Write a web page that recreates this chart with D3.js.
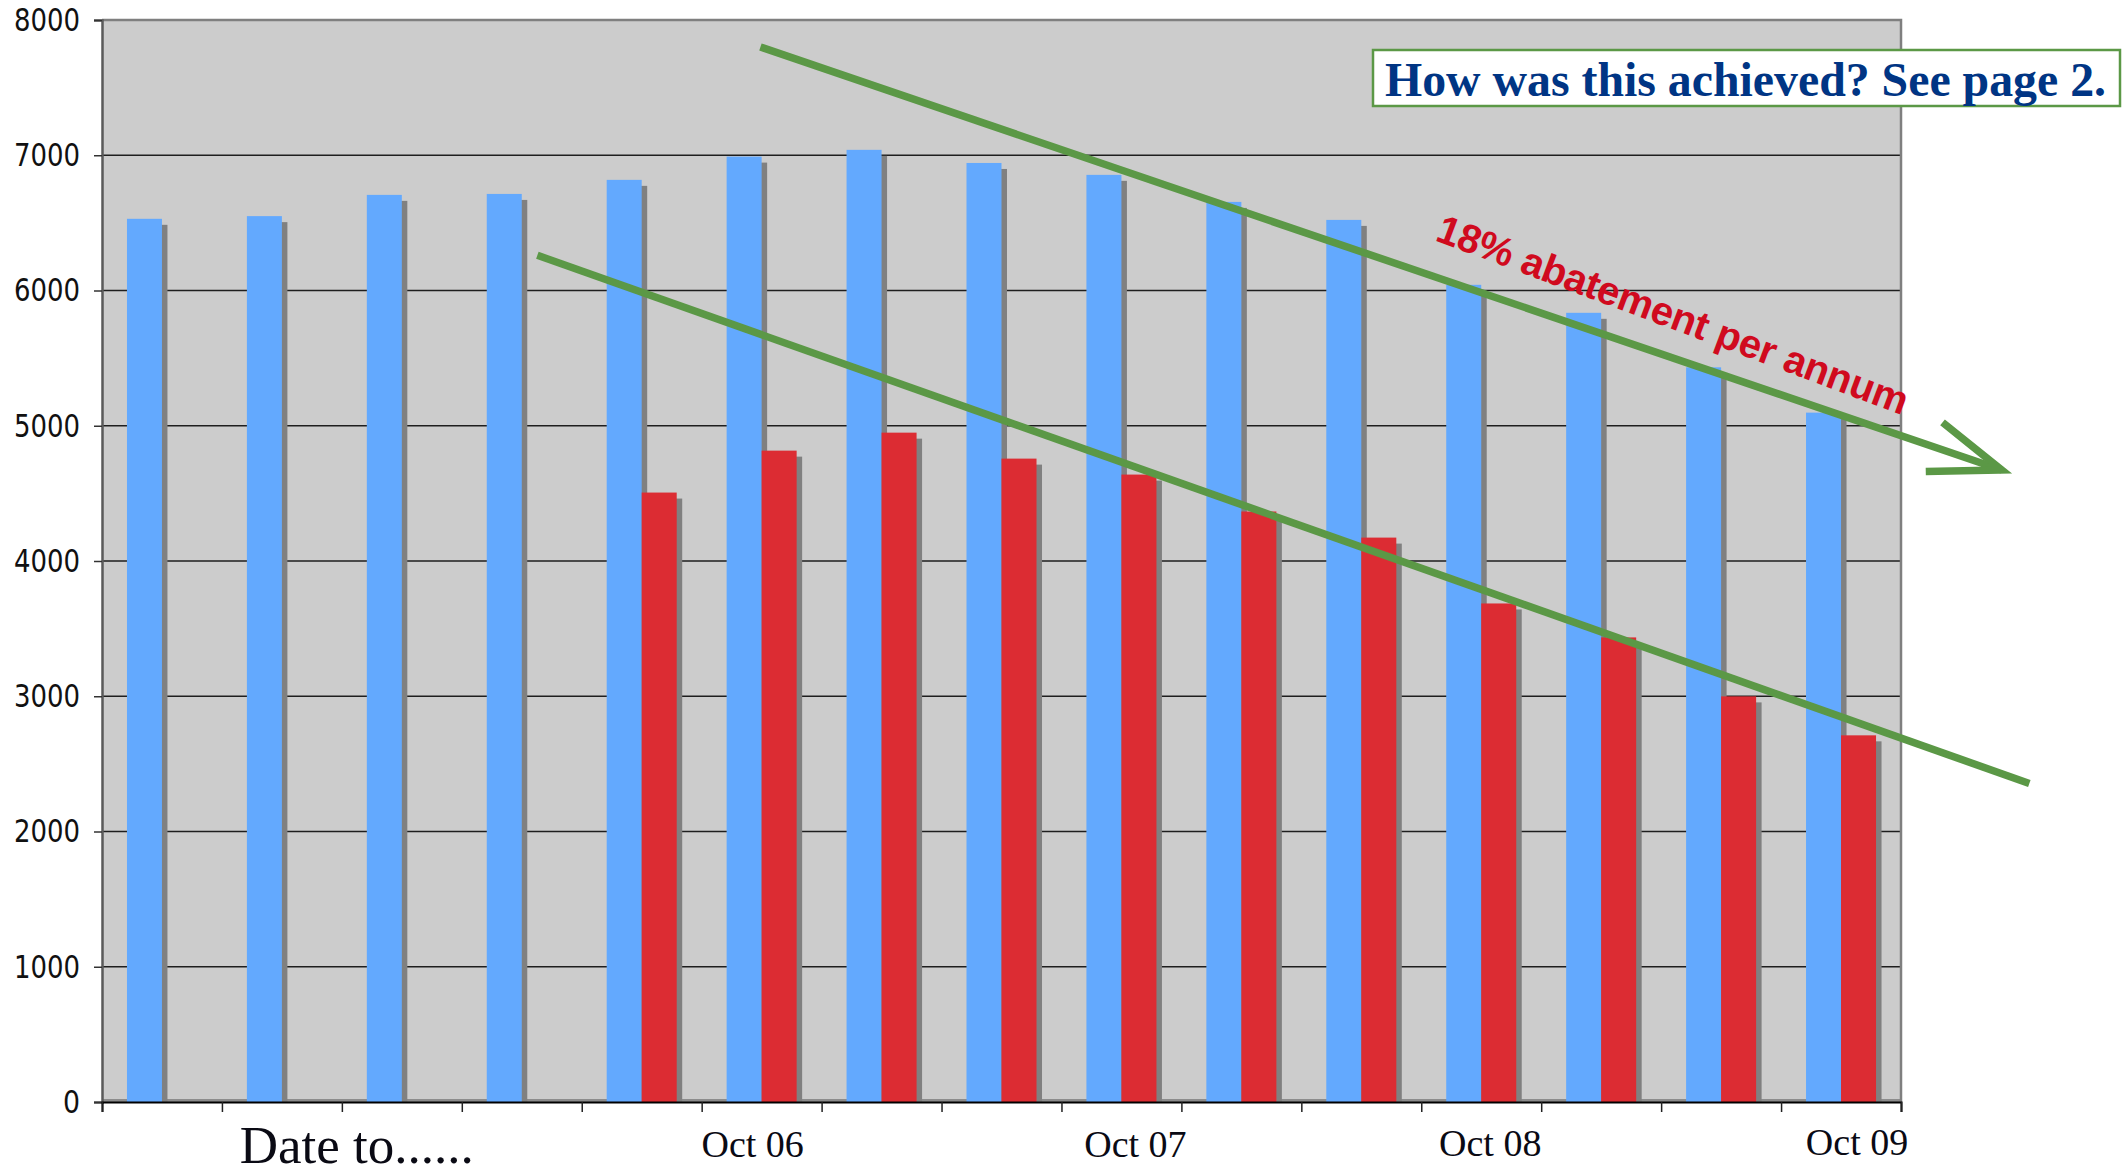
<!DOCTYPE html>
<html>
<head>
<meta charset="utf-8">
<script src="https://cdn.jsdelivr.net/npm/d3@7"></script>
<style>
  body { margin: 0; background: #fff; }
  svg { display: block; }
</style>
</head>
<body>
<div id="chart"></div>
<script>
// periods (4-monthly) and the two series
var periods = ["Feb 05", "Jun 05", "Oct 05", "Feb 06", "Jun 06", "Oct 06", "Feb 07", "Jun 07",
               "Oct 07", "Feb 08", "Jun 08", "Oct 08", "Feb 09", "Jun 09", "Oct 09"];
var blueValues = [6530, 6550, 6707, 6714, 6818, 6990, 7040, 6943, 6855, 6655, 6522, 6042, 5835, 5432, 5097];
var redValues = [null, null, null, null, 4506, 4816, 4949, 4757, 4639, 4366, 4173, 3686, 3435, 2999, 2711];
var yTicks = [0, 1000, 2000, 3000, 4000, 5000, 6000, 7000, 8000];
var labelPeriods = ["Oct 05", "Oct 06", "Oct 07", "Oct 08", "Oct 09"];
var labelTexts = ["Date to......", "Oct 06", "Oct 07", "Oct 08", "Oct 09"];
// trend lines: [category position, value]
var trendLower = [[3.63, 6260], [16.07, 2355]];
var trendUpper = [[5.49, 7800], [15.84, 4673]];
var trendText = "18% abatement per annum";
var noteText = "How was this achieved? See page 2.";

var width = 2125, height = 1173;
var margin = {top: 20, right: 224, bottom: 71, left: 102};
var plotL = margin.left, plotR = width - margin.right;
var plotT = margin.top, plotB = height - margin.bottom;

var svg = d3.select("#chart").append("svg")
	.attr("width", width)
	.attr("height", height)
	.attr("viewBox", "0 0 " + width + " " + height);

var x0 = d3.scaleBand().domain(periods).range([plotL, plotR]);
var x1 = d3.scaleBand().domain(["blue", "red"]).range([0, x0.bandwidth()])
	.paddingInner(0).paddingOuter(0.713);
var xLin = d3.scaleLinear().domain([0, periods.length]).range([plotL, plotR]);
var y = d3.scaleLinear().domain([0, 8000]).range([plotB, plotT]);

svg.append("defs").append("clipPath").attr("id", "plotclip")
  .append("rect").attr("x", plotL).attr("y", plotT).attr("width", plotR - plotL).attr("height", plotB - plotT);

// plot background
svg.append("rect")
	.attr("x", plotL).attr("y", plotT)
	.attr("width", plotR - plotL).attr("height", plotB - plotT)
	.attr("fill", "#cccccc");

// floor strip
svg.append("rect")
	.attr("x", plotL).attr("y", plotB - 3)
	.attr("width", plotR - plotL).attr("height", 3)
	.attr("fill", "#8c8c8c");

// gridlines
svg.append("g").selectAll("line")
	.data(yTicks.filter(function(d) { return d > 0 && d < 8000; }))
	.enter().append("line")
	.attr("x1", plotL).attr("x2", plotR)
	.attr("y1", function(d) { return y(d); })
	.attr("y2", function(d) { return y(d); })
	.attr("stroke", "#1e1e1e")
	.attr("stroke-width", 1.3);

// border top & right
svg.append("path")
	.attr("d", "M" + plotL + "," + plotT + "H" + plotR + "V" + plotB)
	.attr("fill", "none")
	.attr("stroke", "#7f7f7f")
	.attr("stroke-width", 2.5);

var rows = periods.map(function(p, i) {
	return [{period: p, key: "blue", value: blueValues[i]}, {period: p, key: "red", value: redValues[i]}];
});
var flat = [].concat.apply([], rows).filter(function(d) { return d.value != null; });
var colors = {blue: "#63a9fe", red: "#dc2c33"};

var bars = svg.append("g").attr("clip-path", "url(#plotclip)");
bars.selectAll(".shadow")
	.data(flat)
	.enter().append("rect")
	.attr("class", "shadow")
	.attr("x", function(d) { return x0(d.period) + x1(d.key) + 5.5; })
	.attr("y", function(d) { return y(d.value) + 6; })
	.attr("width", x1.bandwidth())
	.attr("height", function(d) { return plotB - y(d.value); })
	.attr("fill", "#808080");
bars.selectAll(".bar")
	.data(flat)
	.enter().append("rect")
	.attr("class", "bar")
	.attr("x", function(d) { return x0(d.period) + x1(d.key); })
	.attr("y", function(d) { return y(d.value); })
	.attr("width", x1.bandwidth())
	.attr("height", function(d) { return plotB - y(d.value); })
	.attr("fill", function(d) { return colors[d.key]; });

// y axis
var yAxis = svg.append("g")
	.attr("transform", "translate(" + plotL + ",0)")
	.call(d3.axisLeft(y).tickValues(yTicks).tickSize(8).tickPadding(14).tickFormat(d3.format("d")));
yAxis.select(".domain").attr("stroke", "#5a5a5a").attr("stroke-width", 2.5);
yAxis.selectAll(".tick line").attr("stroke", "#333").attr("stroke-width", 1.5);
yAxis.selectAll("text")
	.attr("font-family", "'DejaVu Sans Condensed', 'DejaVu Sans', sans-serif")
	.attr("font-size", 32)
	.attr("fill", "#111")
	.attr("textLength", function(d) { return d === 0 ? 17 : 66; })
	.attr("lengthAdjust", "spacingAndGlyphs");

// x axis (ticks on period boundaries)
var xAxis = svg.append("g")
	.attr("transform", "translate(0," + plotB + ")")
	.call(d3.axisBottom(xLin).tickValues(d3.range(periods.length + 1)).tickSize(10).tickFormat(""));
xAxis.select(".domain").attr("stroke", "#000").attr("stroke-width", 2);
xAxis.selectAll(".tick line").attr("stroke", "#222").attr("stroke-width", 1.5);

var labelNudge = [-45, -9, 14, 9, 16];
var labelSize = [53, 38, 38, 38, 38];
var labelBase = [1163, 1157, 1157, 1156, 1155];
svg.append("g").selectAll("text")
	.data(labelTexts)
	.enter().append("text")
	.attr("x", function(d, i) { return x0(labelPeriods[i]) + x0.bandwidth() / 2 + labelNudge[i]; })
	.attr("y", function(d, i) { return labelBase[i]; })
	.attr("text-anchor", "middle")
	.attr("font-family", "'Liberation Serif', 'Times New Roman', serif")
	.attr("font-size", function(d, i) { return labelSize[i]; })
	.attr("fill", "#0a0a14")
	.text(function(d) { return d; });

// trend lines
var green = "#5b9846";
var lineGen = d3.line()
	.x(function(d) { return xLin(d[0]); })
	.y(function(d) { return y(d[1]); });
svg.append("path").attr("d", lineGen(trendLower))
	.attr("fill", "none").attr("stroke", green).attr("stroke-width", 7.5);
svg.append("path").attr("d", lineGen(trendUpper))
	.attr("fill", "none").attr("stroke", green).attr("stroke-width", 7.5);

// open arrow head at the end of the upper line
var tx = xLin(trendUpper[1][0]), ty = y(trendUpper[1][1]);
var ang = Math.atan2(ty - y(trendUpper[0][1]), tx - xLin(trendUpper[0][0]));
var back = ang + Math.PI, spread = 20 * Math.PI / 180, armLen = 76;
var a1 = [tx + armLen * Math.cos(back + spread), ty + armLen * Math.sin(back + spread)];
var a2 = [tx + armLen * Math.cos(back - spread), ty + armLen * Math.sin(back - spread)];
svg.append("path")
	.attr("d", "M" + a1 + "L" + tx + "," + ty + "L" + a2)
	.attr("fill", "none").attr("stroke", green).attr("stroke-width", 7.5)
	.attr("stroke-linejoin", "miter");

// rotated annotation
svg.append("text")
	.attr("transform", "translate(1434,240) rotate(20.5)")
	.attr("font-family", "'Liberation Sans', Arial, sans-serif")
	.attr("font-weight", "bold")
	.attr("font-size", 40)
	.attr("fill", "#d00a1e")
	.attr("textLength", 500)
	.attr("lengthAdjust", "spacing")
	.text(trendText);

// note box
var note = svg.append("g");
note.append("rect")
	.attr("x", 1373).attr("y", 50)
	.attr("width", 747).attr("height", 56)
	.attr("fill", "#fff")
	.attr("stroke", green)
	.attr("stroke-width", 2.5);
note.append("text")
	.attr("x", 1385).attr("y", 96)
	.attr("font-family", "'Liberation Serif', 'Times New Roman', serif")
	.attr("font-weight", "bold")
	.attr("font-size", 48)
	.attr("fill", "#003584")
	.attr("textLength", 721)
	.attr("lengthAdjust", "spacingAndGlyphs")
	.text(noteText);
</script>
</body>
</html>
